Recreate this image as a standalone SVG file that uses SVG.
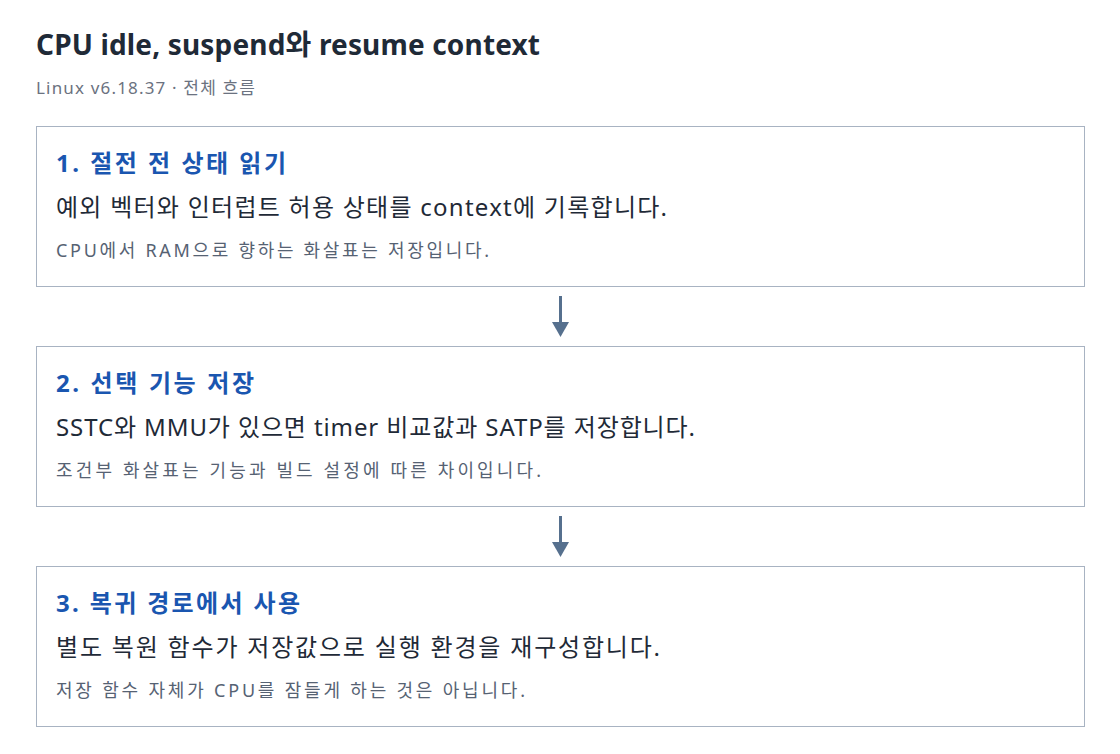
<svg xmlns="http://www.w3.org/2000/svg" width="1120" height="754" viewBox="0 0 1120 754">
<style>
text{font-family:"Noto Sans","Noto Sans CJK KR",sans-serif}
.title{font-size:28px;font-weight:700;fill:#1f2a37}
.sub{font-size:17px;fill:#6b7280}
.box{fill:#ffffff;stroke:#a8b3c2;stroke-width:1}
.h{font-size:24px;font-weight:700;fill:#1a56b0}
.b{font-size:24px;fill:#1f2a37}
.n{font-size:18px;fill:#566273}
.arr{stroke:#56708e;stroke-width:3;fill:none}
</style>
<rect width="1120" height="754" fill="#ffffff"/>
<text class="title" x="36" y="55" textLength="504" lengthAdjust="spacing">CPU idle, suspend와 resume context</text>
<text class="sub" x="36" y="94" textLength="219" lengthAdjust="spacing">Linux v6.18.37 · 전체 흐름</text>
<g id="connectors">
<line class="arr" x1="560.5" y1="296" x2="560.5" y2="322"/>
<path d="M552,322 L569,322 L560.5,337 Z" fill="#56708e"/>
<line class="arr" x1="560.5" y1="516" x2="560.5" y2="542"/>
<path d="M552,542 L569,542 L560.5,557 Z" fill="#56708e"/>
</g>
<g id="step1">
<rect class="box" x="36.5" y="126.5" width="1048" height="160"/>
<text class="h" x="56" y="172" textLength="230" lengthAdjust="spacing">1. 절전 전 상태 읽기</text>
<text class="b" x="56" y="216" textLength="611" lengthAdjust="spacing">예외 벡터와 인터럽트 허용 상태를 context에 기록합니다.</text>
<text class="n" x="56" y="257" textLength="433" lengthAdjust="spacing">CPU에서 RAM으로 향하는 화살표는 저장입니다.</text>
</g>
<g id="step2">
<rect class="box" x="36.5" y="346.5" width="1048" height="160"/>
<text class="h" x="56" y="392" textLength="198" lengthAdjust="spacing">2. 선택 기능 저장</text>
<text class="b" x="56" y="436" textLength="639" lengthAdjust="spacing">SSTC와 MMU가 있으면 timer 비교값과 SATP를 저장합니다.</text>
<text class="n" x="56" y="477" textLength="485" lengthAdjust="spacing">조건부 화살표는 기능과 빌드 설정에 따른 차이입니다.</text>
</g>
<g id="step3">
<rect class="box" x="36.5" y="566.5" width="1048" height="160"/>
<text class="h" x="56" y="612" textLength="244" lengthAdjust="spacing">3. 복귀 경로에서 사용</text>
<text class="b" x="56" y="656" textLength="604" lengthAdjust="spacing">별도 복원 함수가 저장값으로 실행 환경을 재구성합니다.</text>
<text class="n" x="56" y="697" textLength="469" lengthAdjust="spacing">저장 함수 자체가 CPU를 잠들게 하는 것은 아닙니다.</text>
</g>
</svg>
